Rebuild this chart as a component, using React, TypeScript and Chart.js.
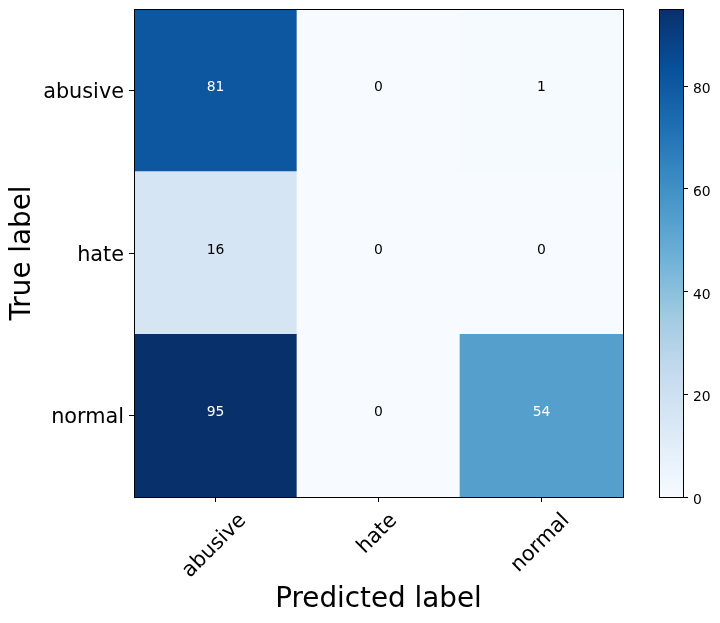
import React, { useEffect, useRef } from "react";
import { Chart, registerables } from "chart.js";

Chart.register(...registerables);

const predictedLabels = ["abusive", "hate", "normal"];
const trueLabels = ["abusive", "hate", "normal"];
const rowAbusive = [81, 0, 1];
const rowHate = [16, 0, 0];
const rowNormal = [95, 0, 54];
const colorbarTicks = [0, 20, 40, 60, 80];

const BLUES = ["#f7fbff", "#deebf7", "#c6dbef", "#9ecae1", "#6baed6", "#4292c6", "#2171b5", "#08519c", "#08306b"];
const FONT = "'DejaVu Sans', sans-serif";

function hexToRgb(h: string) {
  return [parseInt(h.slice(1, 3), 16), parseInt(h.slice(3, 5), 16), parseInt(h.slice(5, 7), 16)];
}
function blues(t: number) {
  const x = Math.max(0, Math.min(1, t)) * (BLUES.length - 1);
  const i = Math.min(BLUES.length - 2, Math.floor(x));
  const f = x - i;
  const a = hexToRgb(BLUES[i]);
  const b = hexToRgb(BLUES[i + 1]);
  const c = a.map((v, k) => Math.round(v + (b[k] - v) * f));
  return `rgb(${c[0]},${c[1]},${c[2]})`;
}

const rows = [rowAbusive, rowHate, rowNormal];
const vmax = Math.max(...rows.flat());
const vmin = Math.min(...rows.flat());

export default function App() {
  const mainRef = useRef<HTMLCanvasElement>(null);
  const cbRef = useRef<HTMLCanvasElement>(null);

  useEffect(() => {
    // stacked bottom-to-top: normal, hate, abusive
    const order = [2, 1, 0];
    const datasets = order.map((r) => ({
      label: trueLabels[r],
      data: rows[r].map(() => 1),
      values: rows[r],
      backgroundColor: rows[r].map((v) => blues((v - vmin) / (vmax - vmin))),
      borderWidth: 0,
      barPercentage: 1,
      categoryPercentage: 1,
    }));

    const cellPlugin = {
      id: "cells",
      afterDatasetsDraw(chart: any) {
        const ctx = chart.ctx;
        ctx.save();
        ctx.font = `13.9px ${FONT}`;
        ctx.textAlign = "center";
        ctx.textBaseline = "alphabetic";
        chart.data.datasets.forEach((ds: any, di: number) => {
          const meta = chart.getDatasetMeta(di);
          meta.data.forEach((el: any, i: number) => {
            const v = ds.values[i];
            ctx.fillStyle = v > vmax / 2 ? "#ffffff" : "#000000";
            ctx.fillText(String(v), el.x, (el.y + el.base) / 2 + 0.5);
          });
        });
        ctx.restore();
      },
      afterDraw(chart: any) {
        const ctx = chart.ctx;
        const a = chart.chartArea;
        ctx.save();
        ctx.strokeStyle = "#000";
        ctx.lineWidth = 1;
        ctx.strokeRect(Math.round(a.left) + 0.5, Math.round(a.top) + 0.5, Math.round(a.right - a.left), Math.round(a.bottom - a.top));
        ctx.fillStyle = "#000";
        ctx.font = `20.8px ${FONT}`;
        // y tick labels
        const ys = chart.scales.y;
        ctx.textAlign = "right";
        ctx.textBaseline = "alphabetic";
        ys.ticks.forEach((t: any) => {
          const py = ys.getPixelForValue(t.value);
          ctx.fillText(trueLabels[2 - Math.floor(t.value)], a.left - 10, py + 7.5);
        });
        // rotated x tick labels, centered on the tick
        const xs = chart.scales.x;
        ctx.textAlign = "center";
        ctx.textBaseline = "middle";
        const h = 20.8 * 1.16;
        predictedLabels.forEach((lab, i) => {
          const px = xs.getPixelForTick(i);
          const w = ctx.measureText(lab).width;
          const bh = (w + h) * Math.SQRT1_2;
          const cy = a.bottom + 4.9 + 4.9 + bh / 2 + 2;
          ctx.save();
          ctx.translate(px - 1, cy);
          ctx.rotate(-Math.PI / 4);
          ctx.fillText(lab, 0, 0);
          ctx.restore();
        });
        ctx.restore();
      },
    };

    const main = new Chart(mainRef.current!, {
      type: "bar",
      data: { labels: predictedLabels, datasets: datasets as any },
      options: {
        responsive: false,
        animation: false,
        events: [],
        layout: { padding: { top: 9, right: 17, left: 0, bottom: 0 } },
        plugins: { legend: { display: false }, tooltip: { enabled: false } },
        scales: {
          x: {
            type: "category",
            stacked: true,
            offset: true,
            grid: { display: true, drawOnChartArea: false, drawTicks: true, tickLength: 5, color: "#000", offset: false },
            border: { display: true, color: "#000" },
            ticks: { display: false },
            title: { display: true, text: "Predicted label", font: { family: FONT, size: 27.8 }, color: "#000", padding: { top: 0, bottom: 7 } },
            afterFit(s: any) {
              s.height = 126;
              s.paddingLeft = 0;
              s.paddingRight = 0;
            },
          },
          y: {
            type: "linear",
            stacked: true,
            min: 0,
            max: 3,
            grid: { display: true, drawOnChartArea: false, drawTicks: true, tickLength: 5, color: "#000" },
            border: { display: true, color: "#000" },
            afterBuildTicks(s: any) {
              s.ticks = [0.5, 1.5, 2.5].map((v) => ({ value: v }));
            },
            ticks: { display: false },
            title: { display: true, text: "True label", font: { family: FONT, size: 27.8 }, color: "#000", padding: { top: 6, bottom: 0 } },
            afterFit(s: any) {
              s.width = 134;
              s.paddingTop = 0;
              s.paddingBottom = 0;
            },
          },
        },
      },
      plugins: [cellPlugin],
    });

    const framePlugin = {
      id: "frame",
      afterDraw(chart: any) {
        const ctx = chart.ctx;
        const a = chart.chartArea;
        ctx.save();
        ctx.strokeStyle = "#000";
        ctx.lineWidth = 1;
        ctx.strokeRect(Math.round(a.left) + 0.5, Math.round(a.top) + 0.5, Math.round(a.right - a.left), Math.round(a.bottom - a.top));
        const ys = chart.scales.y;
        ctx.fillStyle = "#000";
        ctx.font = `13.9px ${FONT}`;
        ctx.textAlign = "left";
        ctx.textBaseline = "alphabetic";
        ys.ticks.forEach((t: any) => {
          const py = ys.getPixelForValue(t.value);
          ctx.fillText(String(t.value), a.right + 10, py + 7);
        });
        ctx.restore();
      },
    };

    const cb = new Chart(cbRef.current!, {
      type: "bar",
      data: {
        labels: [""],
        datasets: [
          {
            data: [[vmin, vmax]] as any,
            borderWidth: 0,
            barPercentage: 1,
            categoryPercentage: 1,
            backgroundColor: (c: any) => {
              const area = c.chart.chartArea;
              if (!area) return BLUES[0];
              const g = c.chart.ctx.createLinearGradient(0, area.bottom, 0, area.top);
              BLUES.forEach((col, i) => g.addColorStop(i / (BLUES.length - 1), col));
              return g;
            },
          },
        ],
      },
      options: {
        responsive: false,
        animation: false,
        events: [],
        layout: { padding: { top: 9, right: 0, left: 19, bottom: 126 } },
        plugins: { legend: { display: false }, tooltip: { enabled: false } },
        scales: {
          x: { display: false },
          y: {
            position: "right",
            min: vmin,
            max: vmax,
            grid: { display: true, drawOnChartArea: false, drawTicks: true, tickLength: 5, color: "#000" },
            border: { display: true, color: "#000" },
            afterBuildTicks(s: any) {
              s.ticks = colorbarTicks.map((v) => ({ value: v }));
            },
            ticks: { display: false },
            afterFit(s: any) {
              s.width = 37;
              s.paddingTop = 0;
              s.paddingBottom = 0;
            },
          },
        },
      },
      plugins: [framePlugin],
    });

    return () => {
      main.destroy();
      cb.destroy();
    };
  }, []);

  return (
    <div style={{ position: "absolute", left: 0, top: 0, width: 720, height: 623, background: "#fff" }}>
      <canvas ref={mainRef} width={640} height={623} style={{ position: "absolute", left: 0, top: 0 }} />
      <canvas ref={cbRef} width={80} height={623} style={{ position: "absolute", left: 640, top: 0 }} />
    </div>
  );
}
